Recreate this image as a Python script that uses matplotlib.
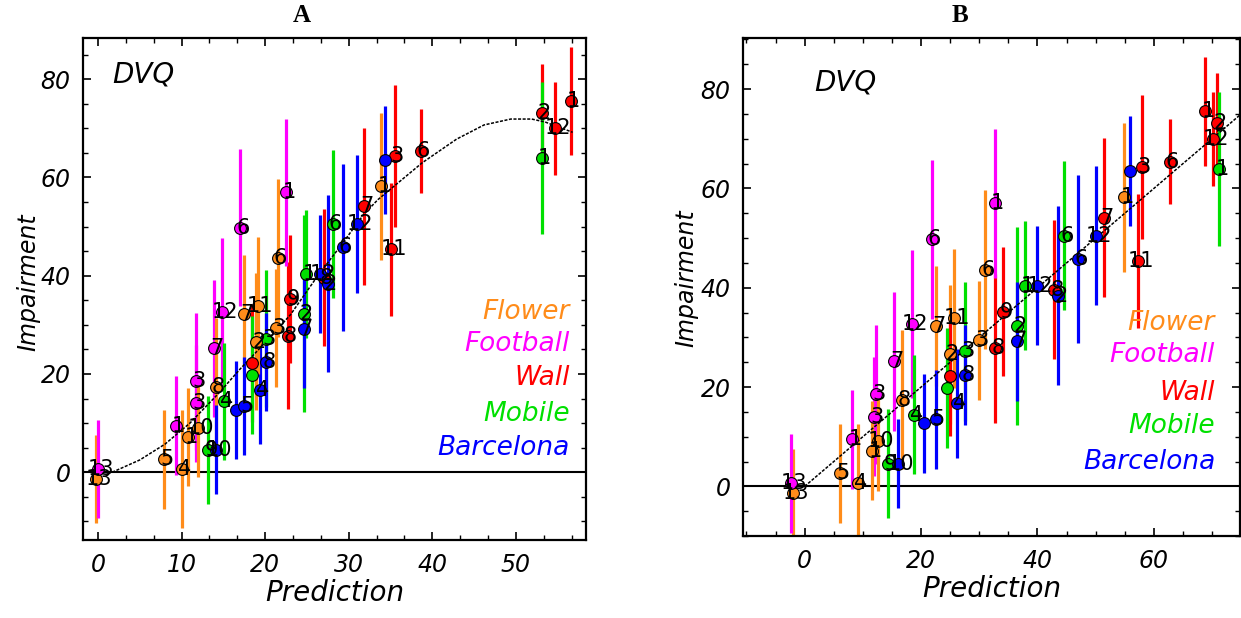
import matplotlib
matplotlib.use("Agg")
import matplotlib.pyplot as plt
from matplotlib.ticker import MultipleLocator, AutoMinorLocator

# ---------------- data ----------------
categories = ["Flower", "Football", "Wall", "Mobile", "Barcelona"]
cat_colors = {"Flower": "#FF8C1A", "Football": "#FF00FF", "Wall": "#FF0000",
              "Mobile": "#00E000", "Barcelona": "#0000FF"}

point_cat = ["Wall", "Wall", "Wall", "Mobile", "Wall", "Wall", "Barcelona", "Flower",
             "Wall", "Wall", "Barcelona", "Mobile", "Barcelona", "Wall", "Barcelona",
             "Mobile", "Barcelona", "Wall", "Mobile", "Barcelona", "Wall", "Flower",
             "Football", "Football", "Flower", "Mobile", "Flower", "Wall", "Mobile",
             "Barcelona", "Barcelona", "Flower", "Flower", "Football", "Football",
             "Flower", "Football", "Mobile", "Barcelona", "Barcelona", "Football",
             "Football", "Flower", "Flower", "Mobile", "Barcelona", "Flower", "Flower",
             "Flower", "Football"]
point_label = ["1", "2", "12", "1", "6", "3", "", "1",
               "11", "7", "12", "6", "6", "8", "2",
               "1", "12", "9", "2", "7", "8", "6",
               "1", "6", "3", "3", "2", "", "",
               "8", "4", "11", "7", "12", "7",
               "8", "3", "4", "", "5", "3",
               "1", "10", "1", "9", "10", "5", "4",
               "13", "13"]
prediction_a = [56.6, 53.1, 54.7, 53.1, 38.6, 35.5, 34.3, 33.9,
                35.1, 31.8, 31.0, 28.1, 29.3, 27.0, 27.5,
                24.9, 26.6, 23.0, 24.6, 24.6, 22.7, 21.5,
                22.5, 17.0, 21.3, 20.1, 18.9, 18.4, 18.4,
                20.1, 19.4, 19.1, 17.5, 14.8, 13.9,
                14.1, 11.7, 15.1, 16.5, 17.5, 11.7,
                9.3, 12.0, 10.8, 13.2, 14.1, 7.9, 10.0,
                -0.2, 0.0]
prediction_b = [68.8, 70.9, 70.2, 71.2, 62.7, 57.9, 55.9, 54.9,
                57.3, 51.5, 50.1, 44.6, 47.0, 42.9, 43.6,
                37.8, 39.9, 34.1, 36.5, 36.5, 32.7, 31.0,
                32.7, 21.8, 30.0, 27.6, 24.9, 24.9, 24.5,
                27.6, 26.2, 25.6, 22.5, 18.4, 15.3,
                16.7, 12.3, 18.7, 20.5, 22.5, 11.9,
                8.2, 12.6, 11.6, 14.3, 16.0, 6.1, 9.2,
                -2.0, -2.4]
impairment = [75.5, 73.2, 70.0, 64.0, 65.4, 64.4, 63.5, 58.2,
              45.4, 54.1, 50.5, 50.5, 45.8, 39.6, 38.4,
              40.4, 40.4, 35.2, 32.3, 29.2, 27.8, 43.6,
              57.0, 49.8, 29.4, 27.2, 26.6, 22.2, 19.8,
              22.4, 16.7, 33.9, 32.3, 32.7, 25.2,
              17.4, 18.5, 14.4, 12.7, 13.5, 14.0,
              9.5, 9.1, 7.2, 4.6, 4.6, 2.6, 0.6,
              -1.4, 0.6]
impairment_err = [11, 10, 9.5, 15.5, 8.5, 14.5, 11, 15,
                  13.5, 16, 14, 15, 17, 14, 18,
                  13, 12, 13, 20, 12, 15, 16,
                  15, 16, 12, 14, 14, 12, 12,
                  10, 11, 14, 12, 15, 14,
                  14, 14, 12, 10, 10, 12,
                  10, 10, 10, 11, 9, 10, 12,
                  9, 10]

# fitted curve in panel A and identity line in panel B
curve_a_x = [1.7, 5, 8, 11, 14.4, 17, 19.4, 23, 26.3, 29, 31.8, 33.5, 35.9,
             38.8, 42.9, 46.2, 49.4, 51.9, 53.5, 55.1, 56.8]
curve_a_y = [0, 2.5, 5.7, 10, 16, 21, 25.3, 32, 40, 46, 52.5, 55.5, 58.9,
             63.0, 67.8, 70.7, 71.9, 71.9, 71.3, 70.3, 69.2]
line_b_x = [0, 75]
line_b_y = [0, 75]

# ---------------- figure ----------------
W, H = 1241, 618
fig = plt.figure(figsize=(W / 100, H / 100), dpi=100)
fig.patch.set_facecolor("white")


def make_panel(rect, xs, xlim, ylim, xmajor, xminor, line_x, line_y, line_style,
               title, title_x, legend_x, legend_ys, dvq_pos, ylabel_pos):
    ax = fig.add_axes(rect)
    ax.set_xlim(*xlim)
    ax.set_ylim(*ylim)
    ax.axhline(0, color="black", lw=1.5, zorder=2)
    ax.plot(line_x, line_y, color="black", lw=1.1, ls=line_style, zorder=3)
    for i in range(len(xs)):
        c = cat_colors[point_cat[i]]
        ax.plot([xs[i], xs[i]], [impairment[i] - impairment_err[i],
                                 impairment[i] + impairment_err[i]],
                color=c, lw=2.3, solid_capstyle="butt", zorder=2)
    for i in range(len(xs)):
        c = cat_colors[point_cat[i]]
        ax.plot(xs[i], impairment[i], "o", ms=8.5, mfc=c, mec="black", mew=0.8,
                zorder=4)
        if point_label[i]:
            ax.annotate(point_label[i], (xs[i], impairment[i]), xytext=(2, 0),
                        textcoords="offset points", ha="center", va="center",
                        fontsize=15, color="black", zorder=5)
    ax.xaxis.set_major_locator(MultipleLocator(xmajor))
    ax.xaxis.set_minor_locator(AutoMinorLocator(xminor))
    ax.yaxis.set_major_locator(MultipleLocator(20))
    ax.yaxis.set_minor_locator(MultipleLocator(5))
    ax.tick_params(which="both", direction="in", top=True, right=True)
    ax.tick_params(which="major", length=6, width=1.2, pad=9)
    ax.tick_params(which="minor", length=3.5, width=1.0)
    for lab in ax.get_xticklabels() + ax.get_yticklabels():
        lab.set_fontfamily("DejaVu Sans")
        lab.set_fontstyle("italic")
        lab.set_fontsize(17)
    for s in ax.spines.values():
        s.set_linewidth(1.6)
    ax.set_xlabel("Prediction", fontsize=20, style="italic", family="DejaVu Sans",
                  labelpad=2)
    ax.text(dvq_pos[0], dvq_pos[1], "DVQ", transform=ax.transAxes, fontsize=20,
            style="italic", family="DejaVu Sans", ha="left", va="center")
    for name, ly in zip(categories, legend_ys):
        ax.text(legend_x, ly, name, transform=ax.transAxes, fontsize=19,
                style="italic", family="DejaVu Sans", color=cat_colors[name],
                ha="right", va="center")
    fig.text(title_x, 1 - 16 / H, title, family="Liberation Serif",
             weight="bold", fontsize=18, ha="center", va="center")
    fig.text(ylabel_pos[0], ylabel_pos[1], "Impairment", rotation=90,
             fontsize=17, style="italic", family="DejaVu Sans",
             ha="center", va="center")
    return ax


make_panel([83 / W, 1 - 540 / H, 503 / W, 502 / H], prediction_a,
           (-1.8, 58.4), (-13.8, 88.4), 10, 3, curve_a_x, curve_a_y, (0, (2, 1)),
           "A", 302 / W, 0.968, [0.454, 0.390, 0.323, 0.251, 0.183],
           (0.058, 0.928), (28 / W, 1 - 282 / H))

make_panel([743 / W, 1 - 536 / H, 497 / W, 498 / H], prediction_b,
           (-10.6, 74.8), (-10.0, 90.3), 20, 4, line_b_x, line_b_y, (0, (2, 1)),
           "B", 960 / W, 0.950, [0.428, 0.363, 0.287, 0.220, 0.148],
           (0.143, 0.91), (686 / W, 1 - 278 / H))

fig.savefig("out.png", dpi=100)
